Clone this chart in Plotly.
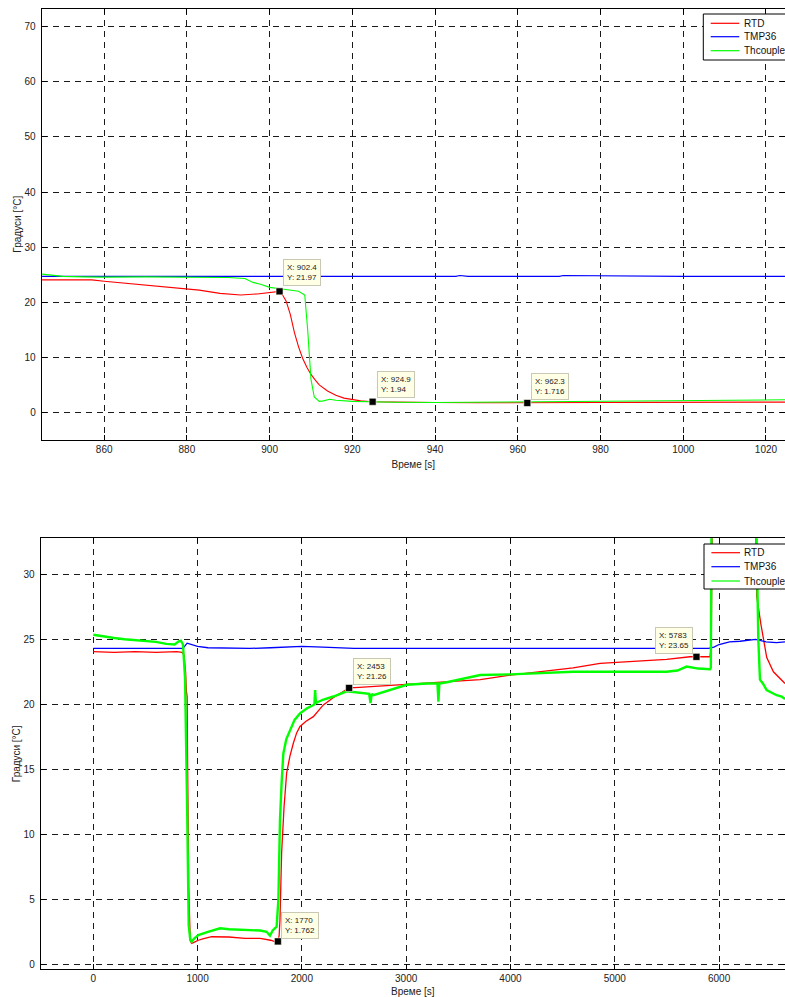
import plotly.graph_objects as go

# ---------------- top panel data (zoom 845..1025 s) ----------------
t_top_rtd = [845, 857, 860, 866, 876, 883, 888, 893, 897, 900, 902.4, 903, 904, 905, 906, 907, 908,
             909, 910, 911, 912, 914, 916, 918, 920, 922, 924.9, 930, 940, 950, 962.3, 970, 980,
             990, 1000, 1010, 1024.6]
v_top_rtd = [24.05, 24.05, 23.8, 23.4, 22.8, 22.2, 21.6, 21.3, 21.5, 21.8, 21.97, 21.5, 20.2, 17.8,
             14.5, 11.9, 9.8, 8.2, 6.9, 5.9, 5.0, 3.9, 3.1, 2.6, 2.3, 2.1, 1.94, 1.85, 1.8, 1.75,
             1.716, 1.75, 1.8, 1.82, 1.85, 1.85, 1.88]

t_top_tmp = [845, 880, 900, 915, 918, 922, 925, 935, 945, 946, 948, 970, 971, 1000, 1024.6]
v_top_tmp = [24.7, 24.7, 24.7, 24.7, 24.8, 24.8, 24.7, 24.7, 24.7, 24.85, 24.7, 24.7, 24.85, 24.7, 24.7]

t_top_thc = [845, 850, 855, 860, 870, 880, 890, 894, 896, 898, 900, 903, 907, 908.5, 909.2, 910,
             910.8, 912, 913, 914.5, 916, 920, 925, 930, 940, 950, 960, 962, 970, 980, 990, 1000,
             1010, 1020, 1024.6]
v_top_thc = [25.1, 24.7, 24.6, 24.55, 24.6, 24.6, 24.5, 24.3, 23.6, 23.2, 22.7, 22.4, 22.0, 21.3,
             15.0, 6.0, 2.8, 2.0, 2.1, 2.4, 2.2, 2.0, 1.9, 1.85, 1.8, 1.85, 1.9, 2.0, 2.0, 2.0, 2.1,
             2.1, 2.2, 2.3, 2.3]

top_tips_x = [902.4, 924.9, 962.3]
top_tips_y = [21.97, 1.94, 1.716]

# ---------------- bottom panel data (full run) ----------------
t_bot_rtd = [0, 200, 400, 600, 800, 850, 870, 885, 893, 900, 905, 915, 930, 943, 970, 1007, 1050,
             1135, 1300, 1455, 1600, 1646, 1700, 1740, 1770, 1782, 1790, 1806, 1829, 1854, 1885,
             1918, 1950, 1982, 2040, 2110, 2160, 2206, 2300, 2380, 2453, 2550, 2750, 3006, 3300,
             3710, 4000, 4300, 4600, 4859, 5177, 5497, 5721, 5913, 5925, 5940, 6340, 6361, 6400,
             6425, 6457, 6521, 6580, 6632]
v_bot_rtd = [24.05, 24.0, 24.05, 24.0, 24.05, 24.0, 23.8, 22.5, 21.0, 20.6, 15.0, 6.0, 1.8, 1.6,
             1.7, 1.85, 1.95, 2.12, 2.1, 2.0, 2.0, 1.95, 1.85, 1.75, 1.762, 2.2, 3.4, 8.6, 12.1,
             14.7, 16.0, 17.0, 17.8, 18.3, 18.7, 19.05, 19.5, 19.95, 20.5, 20.9, 21.26, 21.3,
             21.4, 21.5, 21.7, 21.9, 22.25, 22.5, 22.8, 23.15, 23.3, 23.46, 23.66, 23.66, 24.5,
             40.0, 40.0, 28.3, 26.2, 24.95, 23.6, 22.5, 22.0, 21.6]

t_bot_tmp = [0, 200, 400, 600, 800, 860, 900, 950, 1000, 1100, 1500, 1700, 2000, 2200, 2500,
             3000, 4000, 5000, 5900, 5950, 6000, 6100, 6200, 6350, 6450, 6550, 6632]
v_bot_tmp = [24.3, 24.3, 24.25, 24.3, 24.3, 24.3, 24.7, 24.6, 24.45, 24.35, 24.3, 24.35, 24.45,
             24.4, 24.3, 24.3, 24.3, 24.3, 24.3, 24.4, 24.6, 24.8, 24.85, 25.0, 24.8, 24.75, 24.8]

t_bot_thc = [0, 100, 200, 300, 400, 500, 600, 700, 780, 820, 840, 860, 880, 900, 915, 930, 943,
             970, 1007, 1100, 1215, 1300, 1470, 1600, 1662, 1694, 1720, 1758, 1775, 1790, 1806,
             1822, 1850, 1886, 1930, 1982, 2050, 2110, 2120, 2127, 2135, 2200, 2302, 2430, 2550,
             2645, 2658, 2670, 2686, 2800, 3006, 3200, 3300, 3309, 3318, 3390, 3710, 4000, 4300,
             4600, 4859, 5177, 5497, 5600, 5689, 5800, 5913, 5921, 5930, 6345, 6376, 6392, 6420,
             6456, 6500, 6552, 6600, 6632]
v_bot_thc = [25.35, 25.2, 25.1, 25.0, 24.95, 24.85, 24.8, 24.65, 24.6, 24.85, 24.9, 24.6, 22.0,
             12.0, 3.0, 1.9, 1.74, 2.0, 2.25, 2.5, 2.77, 2.7, 2.64, 2.6, 2.5, 2.2, 2.6, 2.9, 5.0,
             11.1, 14.0, 16.2, 17.3, 18.0, 18.8, 19.3, 19.7, 19.95, 20.0, 21.1, 20.1, 20.35, 20.6,
             21.0, 20.9, 20.8, 20.1, 20.8, 20.7, 21.0, 21.5, 21.6, 21.6, 20.2, 21.6, 21.7, 22.25,
             22.3, 22.4, 22.5, 22.5, 22.5, 22.5, 22.6, 22.9, 22.75, 22.7, 22.8, 40.0, 40.0, 25.0,
             21.9, 21.6, 21.1, 20.9, 20.7, 20.6, 20.4]

bot_tips_x = [1770, 2453, 5783]
bot_tips_y = [1.762, 21.26, 23.65]

series_names = ["RTD", "TMP36", "Thcouple"]
series_colors = ["#ff0000", "#0000ff", "#00ff00"]

top_x_ticks = [860, 880, 900, 920, 940, 960, 980, 1000, 1020]
top_y_ticks = [0, 10, 20, 30, 40, 50, 60, 70]
bot_x_ticks = [0, 1000, 2000, 3000, 4000, 5000, 6000]
bot_y_ticks = [0, 5, 10, 15, 20, 25, 30]

x_title = "Време [s]"
y_title = "Градуси [°C]"

FONT = "Arial, Liberation Sans, sans-serif"

W, H = 785, 997

def px(xp):   # page pixel x -> paper x
    return xp / W

def py(yp):   # page pixel y -> paper y
    return 1 - yp / H

fig = go.Figure()

top_sets = [(t_top_rtd, v_top_rtd), (t_top_tmp, v_top_tmp), (t_top_thc, v_top_thc)]
bot_sets = [(t_bot_rtd, v_bot_rtd), (t_bot_tmp, v_bot_tmp), (t_bot_thc, v_bot_thc)]
bot_widths = [1.3, 1.3, 2.4]

for (tx, vy), name, col in zip(top_sets, series_names, series_colors):
    fig.add_trace(go.Scatter(x=tx, y=vy, mode="lines", name=name, showlegend=False,
                             line=dict(color=col, width=1.1), xaxis="x", yaxis="y"))

for (tx, vy), name, col, w in zip(bot_sets, series_names, series_colors, bot_widths):
    fig.add_trace(go.Scatter(x=tx, y=vy, mode="lines", name=name, showlegend=False,
                             line=dict(color=col, width=w), xaxis="x2", yaxis="y2"))

marker_style = dict(symbol="square", size=7, color="black",
                    line=dict(color="#fffff0", width=0.6))
fig.add_trace(go.Scatter(x=top_tips_x, y=top_tips_y, mode="markers", marker=marker_style,
                         showlegend=False, xaxis="x", yaxis="y", hoverinfo="skip"))
fig.add_trace(go.Scatter(x=bot_tips_x, y=bot_tips_y, mode="markers", marker=marker_style,
                         showlegend=False, xaxis="x2", yaxis="y2", hoverinfo="skip"))

def fmt(v):
    return ("%g" % v)

annotations = []
shapes = []
tip_box = dict(showarrow=False, yanchor="bottom", align="left",
               bgcolor="#ffffe6", bordercolor="#c8c8b4", borderwidth=1, borderpad=3,
               font=dict(family=FONT, size=8, color="#222222"))
top_shift = [(3, 5, "left"), (4.5, 3.5, "left"), (4, 3, "left")]
for (xv, yv), (xs, ys, anc) in zip(zip(top_tips_x, top_tips_y), top_shift):
    annotations.append(dict(x=xv, y=yv, xref="x", yref="y",
                            text="X: %s<br>Y: %s" % (fmt(xv), fmt(yv)),
                            xanchor=anc, xshift=xs, yshift=ys, **tip_box))
bot_shift = [(3.5, 2, "left"), (4, 2.5, "left"), (-3, 2.5, "right")]
for (xv, yv), (xs, ys, anc) in zip(zip(bot_tips_x, bot_tips_y), bot_shift):
    annotations.append(dict(x=xv, y=yv, xref="x2", yref="y2",
                            text="X: %s<br>Y: %s" % (fmt(xv), fmt(yv)),
                            xanchor=anc, xshift=xs, yshift=ys, **tip_box))

# legends (MATLAB-style boxes, drawn in paper coordinates)
def add_legend(left_page, top_page, bottom_page, item_ys):
    shapes.append(dict(type="rect", xref="paper", yref="paper", layer="above",
                       x0=px(left_page), x1=px(left_page + 120),
                       y0=py(bottom_page), y1=py(top_page),
                       fillcolor="white", line=dict(color="black", width=1)))
    for name, col, yp in zip(series_names, series_colors, item_ys):
        shapes.append(dict(type="line", xref="paper", yref="paper", layer="above",
                           x0=px(left_page + 7.4), x1=px(left_page + 36),
                           y0=py(yp), y1=py(yp), line=dict(color=col, width=1.2)))
        annotations.append(dict(x=px(left_page + 38.4), y=py(yp), xref="paper", yref="paper",
                                text=name, showarrow=False, xanchor="left", yanchor="middle",
                                font=dict(family=FONT, size=10, color="#111111")))

add_legend(703.3, 14, 60, [23.3, 36.7, 50.7])
add_legend(704.0, 544, 589, [552.7, 566.7, 581.0])

def axis_style(tickvals, rng, domain, anchor, title, standoff, lblstand):
    return dict(domain=domain, range=rng, anchor=anchor, tickmode="array", tickvals=tickvals,
                showgrid=True, gridcolor="#1a1a1a", gridwidth=1, griddash="6px,5px",
                ticks="inside", ticklen=5, tickcolor="black", tickwidth=1,
                showline=True, linecolor="black", linewidth=1, mirror="ticks",
                zeroline=False, tickfont=dict(family=FONT, size=10, color="#222222"),
                ticklabelstandoff=lblstand,
                title=dict(text=title, standoff=standoff,
                           font=dict(family=FONT, size=10, color="#222222")))

fig.update_layout(
    width=W, height=H,
    margin=dict(l=0, r=0, t=0, b=0, autoexpand=False),
    paper_bgcolor="white", plot_bgcolor="white",
    showlegend=False,
    xaxis=axis_style(top_x_ticks, [844.9, 1024.6], [px(41.7), 1.0], "y", x_title, 6, 0),
    yaxis=axis_style(top_y_ticks, [-5.0, 73.3], [py(440), py(8.5)], "x", y_title, 1, 3),
    xaxis2=axis_style(bot_x_ticks, [-504, 6632], [px(40.7), 1.0], "y2", x_title, 6, 0),
    yaxis2=axis_style(bot_y_ticks, [-0.385, 32.77], [py(969.3), py(538.3)], "x2", y_title, 1, 3),
    annotations=annotations,
    shapes=shapes,
)

# remove the browser's default 8px page margin so the figure fills the window exactly
fig.write_html("out.html",
               config={"displayModeBar": False, "staticPlot": True},
               post_script="document.body.style.margin='0px';"
                           "document.body.style.overflow='hidden';")
